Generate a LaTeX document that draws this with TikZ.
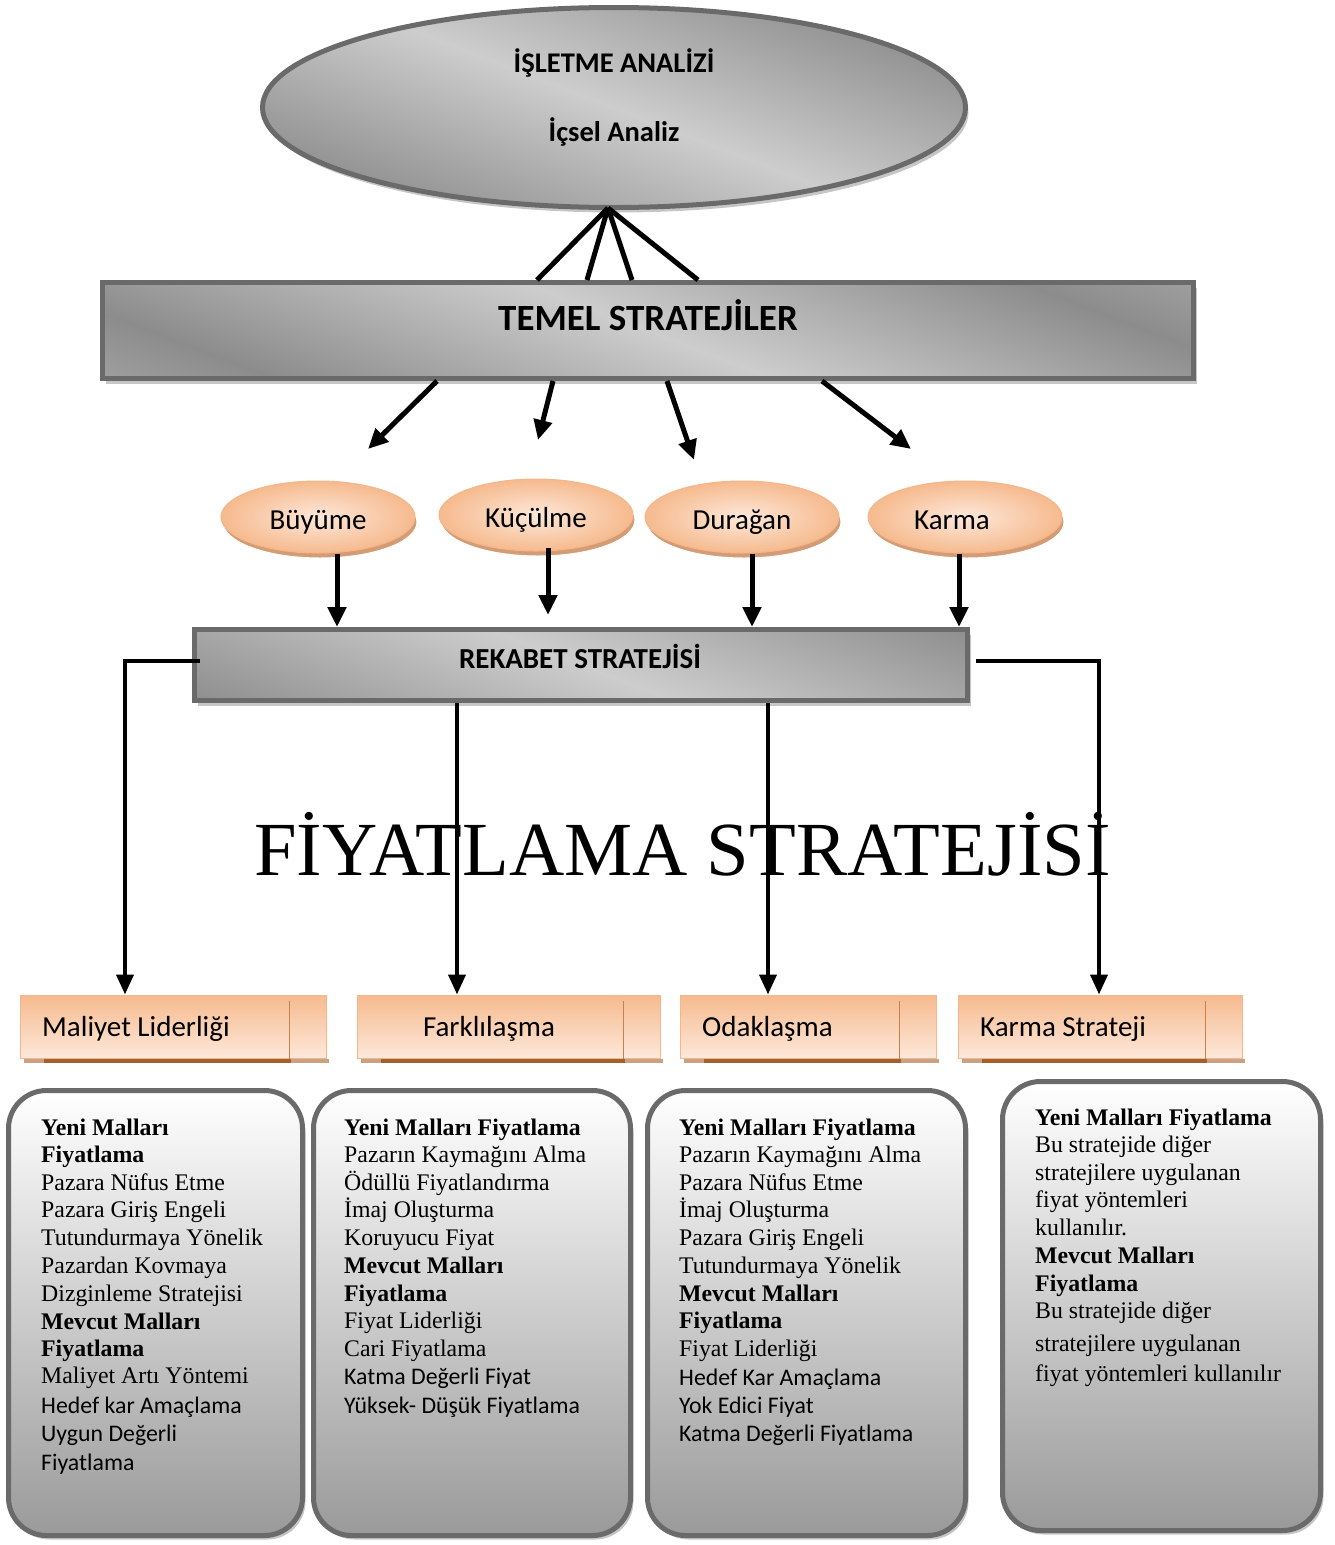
\documentclass[tikz,border=0pt]{standalone}
\usepackage{fontspec}
\setmainfont{Liberation Serif}
\newfontfamily\calfont{Carlito}
\usetikzlibrary{arrows.meta,shapes.geometric,shadows,calc}

\definecolor{edgegray}{HTML}{6A6A6A}
\definecolor{shadegray}{HTML}{C6C6C6}
\definecolor{mLight}{HTML}{CDCDCD}
\definecolor{mDark}{HTML}{8C8C8C}
\definecolor{mEdge}{HTML}{C2C2C2}
\definecolor{orEdge}{HTML}{F4B68A}
\definecolor{orFill}{HTML}{F6BA8E}
\definecolor{orPale}{HTML}{FDE8DA}
\definecolor{orShadow}{HTML}{D49C74}
\definecolor{orLine}{HTML}{C8804E}
\definecolor{brownStrip}{HTML}{A55F2A}
\definecolor{tanStrip}{HTML}{C9A183}
\definecolor{boxBottom}{HTML}{9A9A9A}

% brushed-metal look for the grey shapes (painted on a 600pt circle, so bands keep their width)
\pgfdeclarehorizontalshading{metal}{100bp}{color(0bp)=(mEdge); color(35bp)=(mEdge); color(42.5bp)=(mDark); color(50bp)=(mLight); color(57.5bp)=(mDark); color(65bp)=(mEdge); color(100bp)=(mEdge)}

\begin{document}
\begin{tikzpicture}[x=1pt,y=-1pt,
  metalshape/.style={draw=edgegray, line width=5pt, inner sep=0pt,
    path picture={\shade[shading=metal, shading angle=69] (path picture bounding box.center) circle[radius=600];},
    drop shadow={shadow xshift=3pt, shadow yshift=-5pt, fill=shadegray, opacity=1}},
  oell/.style={ellipse, inner color=orPale, outer color=orFill, draw=orEdge, line width=1pt,
    minimum width=194, minimum height=72, inner sep=0pt, text height=26pt, text depth=2pt,
    drop shadow={shadow xshift=2pt, shadow yshift=-5pt, fill=orShadow, draw=white, line width=1pt, opacity=1},
    font=\calfont\fontsize{29}{34}\selectfont},
  lblbox/.style={draw=orEdge, line width=1pt, top color=orFill, bottom color=orPale, minimum height=63, inner sep=0pt},
  lbltext/.style={anchor=base west, inner sep=0pt, font=\calfont\fontsize{29}{34}\selectfont},
  infobox/.style={rounded corners=38pt, draw=edgegray, line width=5pt, top color=white, bottom color=boxBottom,
    inner sep=0pt, drop shadow={shadow xshift=3pt, shadow yshift=-4pt, fill=shadegray, opacity=1}},
  headtext/.style={anchor=base, inner sep=0pt},
  bodytext/.style={anchor=base west, inner sep=0pt, font=\fontsize{23.8}{27.7}\selectfont},
  conn/.style={line width=5pt},
  arr/.style={line width=5pt, -{Triangle[length=20pt,width=18pt]}},
  thinarr/.style={line width=4pt, -{Triangle[length=20pt,width=17pt]}}
]
\useasboundingbox (0,0) rectangle (1335,1545);

% ---- top ellipse and main bars
\node[metalshape, ellipse, minimum width=703, minimum height=200] (isl) at (614,107.5) {};
\node[metalshape, minimum width=1091, minimum height=96] (temel) at (648,330.5) {};
\node[metalshape, minimum width=773, minimum height=71] (rek) at (581,665) {};

\node[headtext, font=\calfont\bfseries\fontsize{28.5}{34}\selectfont] (islt1) at (614,72) {İŞLETME ANALİZİ};
\node[headtext, font=\calfont\bfseries\fontsize{28.5}{34}\selectfont] (islt2) at (614,141) {İçsel Analiz};
\node[headtext, font=\calfont\bfseries\fontsize{37}{44}\selectfont] (temelt) at (648,330) {TEMEL STRATEJİLER};
\node[headtext, font=\calfont\bfseries\fontsize{29}{34}\selectfont] (rekt) at (580,668) {REKABET STRATEJİSİ};

% ---- strategy ellipses
\node[oell] (buy) at (318,517) {Büyüme};
\node[oell] (kuc) at (536,515) {Küçülme};
\node[oell] (dur) at (742,517) {Durağan};
\node[oell] (kar) at (965,517) {\hspace*{-26pt}Karma};

% ---- big title
\node[anchor=base west, inner sep=0pt, font=\fontsize{76.5}{82}\selectfont] (fiy) at (254,875) {FİYATLAMA STRATEJİSİ};

% ---- orange label boxes
\node[lblbox, minimum width=306] (ml) at (173,1026.5) {};
\node[lblbox, minimum width=303] (fa) at (508.5,1026.5) {};
\node[lblbox, minimum width=256] (od) at (808,1026.5) {};
\node[lblbox, minimum width=284] (ks) at (1100,1026.5) {};
\foreach \b in {ml,fa,od,ks}{
  \fill[tanStrip] ([xshift=4pt]\b.south west) rectangle ([xshift=2pt,yshift=-4pt]\b.south east);
  \fill[brownStrip] ([xshift=24pt]\b.south west) rectangle ([xshift=-36pt,yshift=-4pt]\b.south east);
  \draw[orLine, line width=1pt] ([xshift=-37pt,yshift=-6pt]\b.north east) -- ([xshift=-37pt]\b.south east);
}
\node[lbltext] (mlt) at (42,1036) {Maliyet Liderliği};
\node[lbltext, anchor=base] (fat) at (489,1036) {Farklılaşma};
\node[lbltext] (odt) at (702,1036) {Odaklaşma};
\node[lbltext] (kst) at (980,1036) {Karma Strateji};

% ---- detail boxes
\node[infobox, minimum width=294, minimum height=445] (bx1) at (155.5,1313) {};
\node[infobox, minimum width=317, minimum height=445] (bx2) at (472,1313) {};
\node[infobox, minimum width=318, minimum height=445] (bx3) at (806.5,1313) {};
\node[infobox, minimum width=318, minimum height=449] (bx4) at (1161.5,1306) {};

\foreach \yy/\tx [count=\k] in {
  1135/\bfseries Yeni Malları, 1162.7/\bfseries Fiyatlama, 1190/Pazara Nüfus Etme,
  1217.7/Pazara Giriş Engeli, 1245.7/Tutundurmaya Yönelik, 1273.3/Pazardan Kovmaya,
  1301/Dizginleme Stratejisi, 1329/\bfseries Mevcut Malları, 1356.7/\bfseries Fiyatlama,
  1383.3/Maliyet Artı Yöntemi, 1413.3/\calfont Hedef kar Amaçlama,
  1441.7/\calfont Uygun Değerli, 1470/\calfont Fiyatlama}
  \node[bodytext] (ta\k) at (41,\yy) {\tx};

\foreach \yy/\tx [count=\k] in {
  1135/\bfseries Yeni Malları Fiyatlama, 1162.7/Pazarın Kaymağını Alma,
  1190/Ödüllü Fiyatlandırma, 1217.7/İmaj Oluşturma, 1245.7/Koruyucu Fiyat,
  1273.3/\bfseries Mevcut Malları, 1301/\bfseries Fiyatlama, 1328.3/Fiyat Liderliği,
  1356/Cari Fiyatlama, 1384.3/\calfont Katma Değerli Fiyat,
  1413.3/\calfont Yüksek- Düşük Fiyatlama}
  \node[bodytext] (tb\k) at (344,\yy) {\tx};

\foreach \yy/\tx [count=\k] in {
  1135/\bfseries Yeni Malları Fiyatlama, 1162.7/Pazarın Kaymağını Alma,
  1190/Pazara Nüfus Etme, 1217.7/İmaj Oluşturma, 1245.7/Pazara Giriş Engeli,
  1273.3/Tutundurmaya Yönelik, 1301/\bfseries Mevcut Malları, 1328.7/\bfseries Fiyatlama,
  1356/Fiyat Liderliği, 1385/\calfont Hedef Kar Amaçlama,
  1413.3/\calfont Yok Edici Fiyat, 1441.7/\calfont Katma Değerli Fiyatlama}
  \node[bodytext] (tc\k) at (679,\yy) {\tx};

\foreach \yy/\tx [count=\k] in {
  1125/\bfseries Yeni Malları Fiyatlama, 1152.7/Bu stratejide diğer,
  1180/stratejilere uygulanan, 1207.7/fiyat yöntemleri, 1235.7/kullanılır.,
  1263.3/\bfseries Mevcut Malları, 1291/\bfseries Fiyatlama, 1318.3/Bu stratejide diğer,
  1351/stratejilere uygulanan, 1381.7/fiyat yöntemleri kullanılır}
  \node[bodytext] (td\k) at (1035,\yy) {\tx};

% ---- connectors: analysis to basic strategies
\coordinate (apex) at ([xshift=-6pt,yshift=2pt]isl.south);
\foreach \xx in {537,587,632,698}
  \draw[conn] (apex) -- (\xx,0 |- temel.north);

% ---- basic strategies to the four options
\coordinate (a1) at (368,449);
\coordinate (a2) at (538,440);
\coordinate (a3) at (694,460);
\coordinate (a4) at (911,449);
\draw[arr] (437,0 |- temel.south) -- (a1);
\draw[arr] (553,0 |- temel.south) -- (a2);
\draw[arr] (667,0 |- temel.south) -- (a3);
\draw[arr] (822,0 |- temel.south) -- (a4);

% ---- options to competitive strategy
\coordinate (k1) at (548,615);
\draw[arr] (337,0 |- buy.south) -- (337,0 |- rek.north);
\draw[arr] ([yshift=4pt]548,0 |- kuc.south) -- (k1);
\draw[arr] (752,0 |- dur.south) -- (752,0 |- rek.north);
\draw[arr] (959,0 |- kar.south) -- (959,0 |- rek.north);

% ---- competitive strategy to generic strategies
\draw[thinarr] ([xshift=8pt,yshift=4pt]rek.west) -| (125,0 |- ml.north);
\draw[thinarr] ([xshift=6pt,yshift=4pt]rek.east) -| (1099,0 |- ks.north);
\draw[thinarr] (457,0 |- rek.south) -- (457,0 |- fa.north);
\draw[thinarr] (768,0 |- rek.south) -- (768,0 |- od.north);
\end{tikzpicture}
\end{document}
